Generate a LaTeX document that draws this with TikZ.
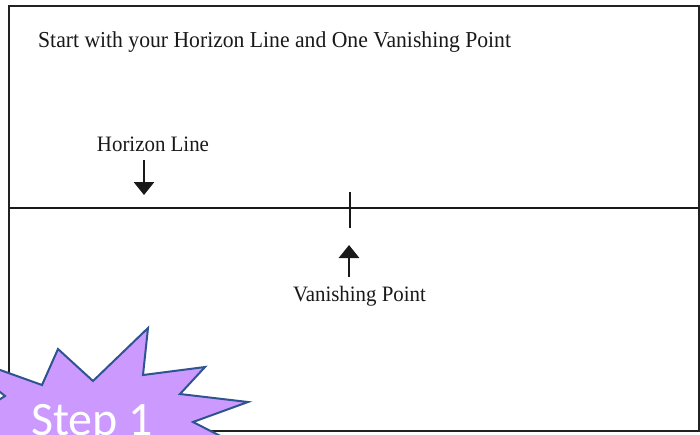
\documentclass[tikz,border=0pt]{standalone}
\usepackage{fontspec}
\usetikzlibrary{arrows.meta}
\newfontfamily\tnr[FakeStretch=0.95]{Liberation Serif}
\newfontfamily\calib{Carlito}
\definecolor{starfill}{HTML}{CC99FF}
\definecolor{stardraw}{HTML}{2F5590}
\definecolor{framecol}{HTML}{222222}
\tikzset{
  lbl/.style={font=\tnr\fontsize{22}{26}\selectfont, text=black!90, inner sep=0pt, anchor=base},
  pointer/.style={line width=2.8pt, -{Triangle[width=20pt,length=13pt]}},
  startext/.style={font=\calib\fontsize{48}{56}\selectfont, text=white, inner sep=0pt, anchor=base west}
}
\begin{document}
\begin{tikzpicture}[x=1pt,y=-1pt]
\useasboundingbox (0,0) rectangle (700,434);
\begin{scope}
\clip (0,0) rectangle (700,434);
% frame
\draw[framecol, line width=2.4pt] (9,6) rectangle (699,431);
% horizon line
\coordinate (hlL) at (9,208);
\coordinate (hlR) at (699,208);
\draw[black!90, line width=2.3pt] (hlL) -- (hlR);
% vanishing point tick
\coordinate (vpT) at (350,192);
\coordinate (vpB) at (350,228);
\draw[black!90, line width=2pt] (vpT) -- (vpB);
% title
\node[lbl, anchor=base west, font=\tnr\fontsize{22.8}{27}\selectfont] (title) at (38,47) {Start with your Horizon Line and One Vanishing Point};
% horizon label and arrow
\node[lbl] (hlab) at (153,151) {Horizon Line};
\coordinate (ha1) at (144,160);
\coordinate (ha2) at (144,195);
\draw[pointer, black!90] (ha1) -- (ha2);
% vanishing label and arrow
\node[lbl] (vlab) at (359.5,301) {Vanishing Point};
\coordinate (va1) at (349,277);
\coordinate (va2) at (349,245);
\draw[pointer, black!90] (va1) -- (va2);
% star
\draw[fill=starfill, draw=stardraw, line width=2pt, line join=miter]
  (-50,352) -- (42,385) -- (58,349) -- (93,381) -- (148,328) -- (143,375)
  -- (205,367) -- (180,394) -- (248,402) -- (193,422) -- (240,446)
  -- (-60,460) -- (-40,425) -- (5,396) -- cycle;
\node[startext] (step) at (31,435) {Step 1};
\end{scope}
\end{tikzpicture}
\end{document}
